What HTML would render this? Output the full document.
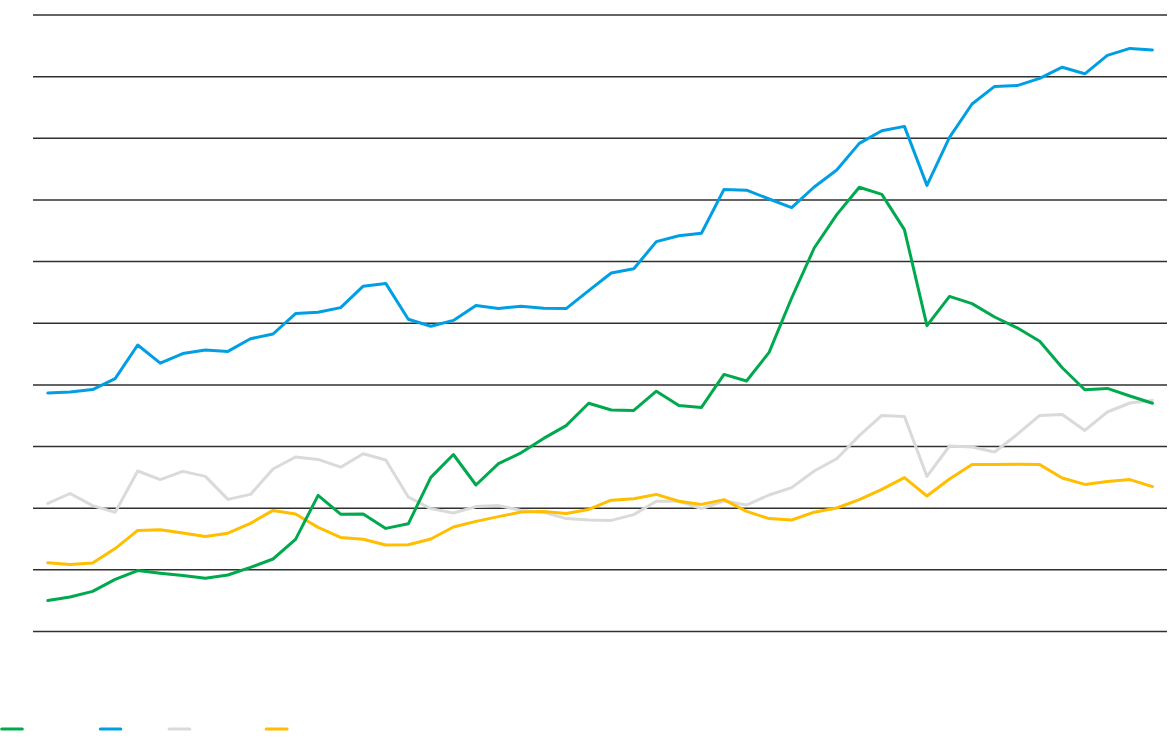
<!DOCTYPE html>
<html><head><meta charset="utf-8"><title>chart</title>
<style>
html,body{margin:0;padding:0;background:#fff;font-family:"Liberation Sans",sans-serif;}
svg{display:block;}
</style></head><body>
<svg width="1170" height="750" viewBox="0 0 1170 750">
<rect width="1170" height="750" fill="#fff"/>
<g stroke="#303030" stroke-width="1.5" fill="none">
<line x1="33" x2="1167" y1="15.00" y2="15.00"/>
<line x1="33" x2="1167" y1="76.65" y2="76.65"/>
<line x1="33" x2="1167" y1="138.30" y2="138.30"/>
<line x1="33" x2="1167" y1="199.95" y2="199.95"/>
<line x1="33" x2="1167" y1="261.60" y2="261.60"/>
<line x1="33" x2="1167" y1="323.25" y2="323.25"/>
<line x1="33" x2="1167" y1="384.90" y2="384.90"/>
<line x1="33" x2="1167" y1="446.55" y2="446.55"/>
<line x1="33" x2="1167" y1="508.20" y2="508.20"/>
<line x1="33" x2="1167" y1="569.85" y2="569.85"/>
<line x1="33" x2="1167" y1="631.50" y2="631.50"/>
</g>
<g fill="none" stroke-width="3" stroke-linecap="round" stroke-linejoin="round">
<polyline stroke="#DADADA" points="47.80,503.4 70.05,493.5 92.60,505.6 115.15,512.4 137.70,471.0 160.25,479.6 182.80,471.4 205.35,476.4 227.90,499.4 250.45,494.4 273.00,469.0 295.55,457.0 318.10,459.4 340.65,467.2 363.20,453.8 385.75,460.0 408.30,497.0 430.85,508.6 453.40,513.0 475.95,506.6 498.50,505.6 521.05,510.4 543.60,512.2 566.15,518.6 588.70,520.0 611.25,520.4 633.80,514.6 656.35,501.2 678.90,501.2 701.45,508.6 724.00,501.0 746.55,505.0 769.10,495.0 791.65,487.6 814.20,471.0 836.75,458.8 859.30,435.6 881.85,415.4 904.40,416.4 926.95,476.4 949.50,446.0 972.05,447.0 994.60,452.0 1017.15,434.4 1039.70,415.4 1062.25,414.6 1084.80,430.4 1107.35,412.0 1129.90,403.0 1152.45,400.6"/>
<polyline stroke="#FFBE00" points="47.80,562.8 70.05,564.4 92.60,563.0 115.15,548.6 137.70,530.4 160.25,529.8 182.80,533.0 205.35,536.6 227.90,533.2 250.45,523.4 273.00,510.4 295.55,514.0 318.10,527.4 340.65,537.4 363.20,539.2 385.75,545.0 408.30,544.8 430.85,539.0 453.40,527.0 475.95,521.4 498.50,516.6 521.05,512.0 543.60,511.6 566.15,513.4 588.70,509.4 611.25,500.2 633.80,498.8 656.35,494.4 678.90,501.2 701.45,504.4 724.00,499.6 746.55,511.4 769.10,518.6 791.65,520.0 814.20,512.2 836.75,508.0 859.30,499.6 881.85,489.4 904.40,477.6 926.95,496.0 949.50,479.0 972.05,464.6 994.60,464.6 1017.15,464.2 1039.70,464.6 1062.25,478.0 1084.80,484.4 1107.35,481.4 1129.90,479.6 1152.45,486.6"/>
<polyline stroke="#009FE3" points="47.80,393.0 70.05,392.0 92.60,389.6 115.15,378.6 137.70,345.0 160.25,363.2 182.80,353.6 205.35,350.0 227.90,351.4 250.45,338.8 273.00,334.0 295.55,313.6 318.10,312.2 340.65,307.6 363.20,286.2 385.75,283.4 408.30,319.2 430.85,326.2 453.40,320.4 475.95,305.6 498.50,308.4 521.05,306.2 543.60,308.2 566.15,308.6 588.70,290.6 611.25,273.0 633.80,268.8 656.35,241.6 678.90,235.8 701.45,233.2 724.00,189.4 746.55,190.2 769.10,199.0 791.65,207.6 814.20,187.0 836.75,170.0 859.30,143.4 881.85,130.8 904.40,126.4 926.95,185.4 949.50,137.4 972.05,104.0 994.60,86.4 1017.15,85.6 1039.70,78.4 1062.25,67.2 1084.80,73.8 1107.35,55.4 1129.90,48.4 1152.45,50.0"/>
<polyline stroke="#00A94D" points="47.80,600.6 70.05,597.0 92.60,591.4 115.15,579.4 137.70,570.6 160.25,573.2 182.80,575.6 205.35,578.2 227.90,575.0 250.45,567.4 273.00,559.0 295.55,539.4 318.10,495.4 340.65,514.2 363.20,514.0 385.75,528.4 408.30,523.8 430.85,477.4 453.40,454.5 475.95,485.0 498.50,463.6 521.05,452.8 543.60,438.4 566.15,425.6 588.70,403.2 611.25,410.0 633.80,410.4 656.35,391.2 678.90,405.4 701.45,407.4 724.00,374.4 746.55,381.0 769.10,352.4 791.65,298.0 814.20,248.0 836.75,214.6 859.30,187.2 881.85,194.4 904.40,229.6 926.95,325.6 949.50,296.4 972.05,303.6 994.60,317.0 1017.15,327.8 1039.70,341.2 1062.25,367.8 1084.80,389.8 1107.35,388.4 1129.90,396.0 1152.45,403.3"/>
</g>
<g fill="none" stroke-width="3" stroke-linecap="round">
<line stroke="#00A94D" x1="1.7" x2="22.3" y1="729" y2="729"/>
<line stroke="#009FE3" x1="100.3" x2="120.8" y1="729" y2="729"/>
<line stroke="#DADADA" x1="169.1" x2="189.8" y1="729" y2="729"/>
<line stroke="#FFBE00" x1="266.2" x2="287.1" y1="729" y2="729"/>
</g>
</svg>
</body></html>
